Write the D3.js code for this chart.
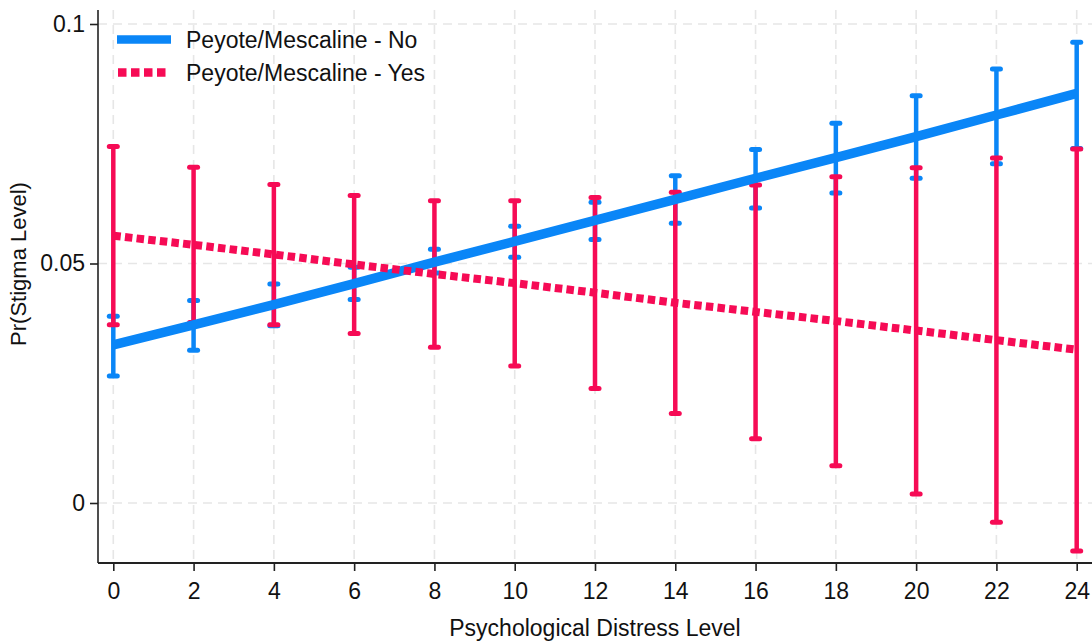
<!DOCTYPE html>
<html lang="en">
<head>
    <meta charset="UTF-8">
    <title>Pr(Stigma Level) by Psychological Distress Level</title>
    <script src="https://d3js.org/d3.v7.min.js"></script>
    <style>
        body { margin: 0; background: #fff; }
        svg { display: block; font-family: "Liberation Sans", Arial, sans-serif; }
        .grid line { stroke: #e6e6e6; stroke-width: 1.6; stroke-dasharray: 9 6; }
        .axis text { font-size: 23px; fill: #111; }
        .axis path, .axis line { stroke: #222; stroke-width: 1.6; }
    </style>
</head>
<body>
    <svg id="chart" width="1092" height="642"></svg>

    <script>
        // distress levels on the x axis
        const levels = [0, 2, 4, 6, 8, 10, 12, 14, 16, 18, 20, 22, 24];

        // Peyote/Mescaline - No (margins + 95% CI)
        const noMean = [0.0330, 0.0372, 0.0414, 0.0458, 0.0503, 0.0546, 0.0590, 0.0634, 0.0678, 0.0721, 0.0765, 0.0810, 0.0855];
        const noLow  = [0.0265, 0.0319, 0.0370, 0.0425, 0.0480, 0.0513, 0.0550, 0.0584, 0.0616, 0.0647, 0.0678, 0.0708, 0.0740];
        const noHigh = [0.0390, 0.0423, 0.0457, 0.0492, 0.0530, 0.0578, 0.0628, 0.0683, 0.0738, 0.0793, 0.0850, 0.0906, 0.0962];

        // Peyote/Mescaline - Yes
        const yesMean = [0.0558, 0.0539, 0.0519, 0.0498, 0.0478, 0.0459, 0.0439, 0.0418, 0.0399, 0.0380, 0.0360, 0.0340, 0.0320];
        const yesLow  = [0.0372, 0.0377, 0.0372, 0.0354, 0.0325, 0.0286, 0.0239, 0.0187, 0.0134, 0.0078, 0.0019, -0.0040, -0.0100];
        const yesHigh = [0.0744, 0.0701, 0.0665, 0.0642, 0.0631, 0.0631, 0.0638, 0.0649, 0.0664, 0.0681, 0.0700, 0.0720, 0.0739];

        const yTicks = [0, 0.05, 0.1];
        const yTickLabels = ["0", "0.05", "0.1"];
        const seriesNames = ["Peyote/Mescaline - No", "Peyote/Mescaline - Yes"];

        const blue = "#0a86f7";
        const red = "#f60b55";

        const svg = d3.select("#chart");
        const plotLeft = 98, plotBottom = 563, plotTop = 10, plotRight = 1092;

        const x = d3.scaleLinear().domain([0, 24]).range([113.3, 1076.7]);
        const y = d3.scaleLinear().domain([0, 0.1]).range([503, 24]);

        // grid lines
        const grid = svg.append("g").attr("class", "grid");
        grid.selectAll("line.v").data(levels).enter().append("line")
            .attr("x1", d => x(d)).attr("x2", d => x(d))
            .attr("y1", plotTop).attr("y2", plotBottom);
        grid.selectAll("line.h").data(yTicks).enter().append("line")
            .attr("x1", plotLeft).attr("x2", plotRight)
            .attr("y1", d => y(d)).attr("y2", d => y(d));

        // axes
        const yAxis = svg.append("g").attr("class", "axis")
            .attr("transform", `translate(${plotLeft},0)`)
            .call(d3.axisLeft(y).tickValues(yTicks).tickSize(8).tickPadding(5)
                .tickFormat((d, i) => yTickLabels[i]));
        yAxis.select(".domain").attr("d", `M0,${plotTop}V${plotBottom}`);

        const xAxis = svg.append("g").attr("class", "axis")
            .attr("transform", `translate(0,${plotBottom})`)
            .call(d3.axisBottom(x).tickValues(levels).tickSize(8).tickPadding(12).tickFormat(d3.format("d")));
        xAxis.select(".domain").attr("d", `M${plotLeft},0H${plotRight}`).style("stroke-width", 2.2);

        svg.append("text")
            .attr("x", 595).attr("y", 636)
            .attr("text-anchor", "middle")
            .style("font-size", "23px").style("fill", "#111")
            .text("Psychological Distress Level");

        svg.append("text")
            .attr("transform", "translate(26,264) rotate(-90)")
            .attr("text-anchor", "middle")
            .style("font-size", "22px").style("fill", "#111")
            .text("Pr(Stigma Level)");

        // error bars with caps
        function drawCI(low, high, color) {
            const g = svg.append("g");
            g.selectAll("line.spike").data(levels).enter().append("line")
                .attr("x1", d => x(d)).attr("x2", d => x(d))
                .attr("y1", (d, i) => y(low[i])).attr("y2", (d, i) => y(high[i]))
                .attr("stroke", color).attr("stroke-width", 4.5);
            const ends = levels.flatMap((d, i) => [[d, low[i]], [d, high[i]]]);
            g.selectAll("line.cap").data(ends).enter().append("line")
                .attr("x1", d => x(d[0]) - 4).attr("x2", d => x(d[0]) + 4)
                .attr("y1", d => y(d[1])).attr("y2", d => y(d[1]))
                .attr("stroke", color).attr("stroke-width", 5)
                .attr("stroke-linecap", "round");
        }
        drawCI(noLow, noHigh, blue);
        drawCI(yesLow, yesHigh, red);

        const line = d3.line().x(d => x(d[0])).y(d => y(d[1]));

        svg.append("path")
            .datum(levels.map((d, i) => [d, noMean[i]]))
            .attr("d", line)
            .attr("fill", "none").attr("stroke", blue).attr("stroke-width", 9.5);

        svg.append("path")
            .datum(levels.map((d, i) => [d, yesMean[i]]))
            .attr("d", line)
            .attr("fill", "none").attr("stroke", red).attr("stroke-width", 8)
            .attr("stroke-dasharray", "7.5 4.2");

        // legend
        const legend = svg.append("g");
        legend.append("line")
            .attr("x1", 117).attr("x2", 171).attr("y1", 39.5).attr("y2", 39.5)
            .attr("stroke", blue).attr("stroke-width", 8.5);
        legend.append("line")
            .attr("x1", 118).attr("x2", 167).attr("y1", 72.5).attr("y2", 72.5)
            .attr("stroke", red).attr("stroke-width", 8.5)
            .attr("stroke-dasharray", "8.5 4.5");
        legend.selectAll("text").data(seriesNames).enter().append("text")
            .attr("x", 186).attr("y", (d, i) => 40 + i * 33)
            .attr("dy", "0.35em")
            .style("font-size", "23px").style("fill", "#111")
            .text(d => d);
    </script>
</body>
</html>
